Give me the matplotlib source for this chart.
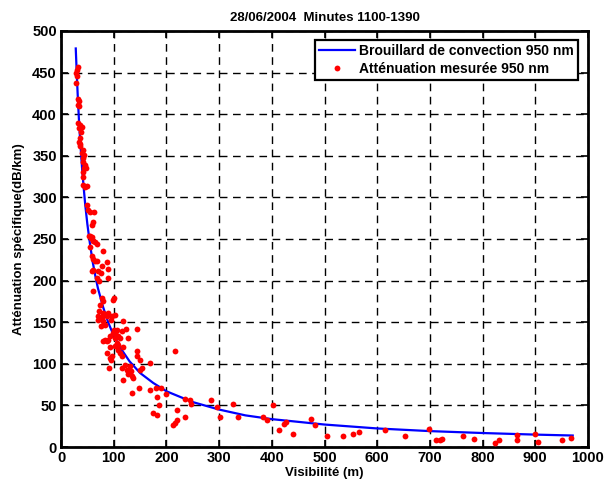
import matplotlib
matplotlib.use("Agg")
import matplotlib.pyplot as plt

plt.rcParams['font.family'] = ['Liberation Sans', 'DejaVu Sans']
plt.rcParams['font.weight'] = 'bold'

title = "28/06/2004  Minutes 1100-1390"
xlabel = "Visibilité (m)"
ylabel = "Atténuation spécifique(dB/km)"
label_model = "Brouillard de convection 950 nm"
label_meas = "Atténuation mesurée 950 nm"

xticks = [0, 100, 200, 300, 400, 500, 600, 700, 800, 900, 1000]
yticks = [0, 50, 100, 150, 200, 250, 300, 350, 400, 450, 500]

# model curve
curve_x = [28, 30, 32, 34, 36, 38, 40, 43, 46, 50, 55, 60, 65, 70, 80, 90, 100,
           115, 130, 150, 175, 200, 250, 300, 350, 400, 500, 600, 700, 800, 900, 971]
curve_y = [479, 447, 419, 394, 372, 353, 335, 312, 291, 268, 244, 223, 206, 191,
           168, 149, 134, 117, 103, 89, 77, 67, 54, 45, 38, 33.5, 27, 22.3, 19.1,
           16.8, 14.9, 13.8]

# measured points
meas_x = [31.6, 29.7, 28.5, 31, 28.5,
          31.6, 34.7, 32.9, 34.7,
          32.9, 36, 39.3, 34.7, 37.4,
          36, 35, 37, 36,
          41, 39, 43.6, 42, 41, 45.5, 43.6, 42, 47.4,
          42, 41, 45.5, 48.8,
          48.8, 51.8, 55, 62.6, 59.9, 58, 55, 58,
          53.8, 56.3, 61.3, 64.5, 67.7, 55, 79,
          58, 61.3, 67.7, 64.5, 77.2, 87, 89.8,
          58, 61.3, 70.8, 75.9,
          68.9, 72.7, 89.8, 61.3,
          100.6, 98.1,
          77.2, 79, 74, 72.7, 80.3, 70.8, 77.2, 70.8, 80.3, 83.5, 75.3, 87, 89.8, 96.2, 102.5, 94.3,
          117,
          100.6, 105.6, 98.1, 104.4, 108.8, 115.1, 112, 102.5, 93, 89.8, 83.5, 80.3, 86.7,
          123.3, 144.8, 127.7,
          105.6, 108.8, 102.5, 93, 86.7, 93, 96.2, 94.3, 91.7, 112, 115.1, 108.8, 118.2,
          144.8, 144.8, 149.9,
          115.1, 121.4, 130.9, 127.7, 134.2, 137.2, 118.2, 125.8, 132.3, 149.9, 153.1,
          168.9, 216.3,
          134.2, 148.6, 168.9, 180.3, 189.2, 182.7, 186.5, 199.2, 175.1, 182.7,
          235.3, 244.8, 246.1, 220.7, 235.3, 216.3, 219.5, 213.2,
          284, 295.4, 301.7, 327, 336.4,
          383.5, 391, 402.3, 413.7, 422.6, 427.5, 440.3, 474.8, 481.8, 503.8, 534.7,
          553.7, 564.9, 615.4, 652, 698.7, 711.2, 718.8, 723.9, 763.6, 783.1, 823.3,
          830.9, 865.6, 865.6, 899, 905.3, 950.8, 968.5]
meas_y = [457, 453, 449, 446, 438,
          418, 416, 411, 410,
          389, 387, 385, 383, 379,
          371, 367, 364, 362,
          357, 353, 351, 347, 343, 339, 335, 331, 335,
          325, 315, 313, 314,
          291, 285, 283, 282, 270, 267, 254, 252,
          254, 251, 248, 246, 244, 240, 235,
          230, 226, 223, 224, 218, 222, 214,
          211, 213, 212, 209,
          203, 199, 203, 187,
          179, 177,
          179, 175, 171, 163, 161, 158, 156, 153, 151, 147, 145, 158, 161, 157, 159, 153,
          151,
          141, 141, 137, 135, 133, 139, 131, 131, 133, 129, 129, 127, 127,
          142, 142, 131,
          125, 123, 121, 120, 113, 107, 109, 104, 95, 113, 109, 117, 120,
          115, 109, 105,
          95, 99, 97, 88, 85, 83, 80, 93, 91, 93, 95,
          101, 115,
          65, 71, 69, 71, 71, 60, 51, 64, 41, 39,
          58, 56, 52, 44, 36, 29, 32, 26,
          57, 48, 36, 52, 36,
          36, 32, 50, 21, 28, 30, 16, 34, 26, 13, 13,
          16, 18, 21, 13, 22, 9, 8, 10, 13, 10, 5,
          9, 15, 9, 16, 6, 9, 11]

fig = plt.figure(figsize=(6.16, 4.86), dpi=100)
ax = fig.add_axes([61/616, 39/486, 527/616, 416/486])

ax.plot(curve_x, curve_y, color=(0, 0, 1), lw=1.6, label=label_model, zorder=3)
ax.plot(meas_x, meas_y, 'o', color=(1, 0, 0), ms=4.2, mec='none',
        label=label_meas, zorder=4)

ax.set_xlim(0, 1000)
ax.set_ylim(0, 500)
ax.set_xticks(xticks)
ax.set_yticks(yticks)
ax.tick_params(direction='in', length=5, width=1.2, top=True, right=True,
               labelsize=10.5, pad=3)
for lab in ax.get_xticklabels() + ax.get_yticklabels():
    lab.set_fontweight('bold')
for s in ax.spines.values():
    s.set_linewidth(2.0)
ax.grid(True, color='black', ls=(0, (5.5, 4)), lw=1.0)
ax.set_axisbelow(True)

ax.set_title(title, fontsize=9.5, fontweight='bold', pad=7)
ax.set_xlabel(xlabel, fontsize=9.5, fontweight='bold', labelpad=1)
ax.set_ylabel(ylabel, fontsize=9.5, fontweight='bold', labelpad=5)

leg = ax.legend(loc='upper right', bbox_to_anchor=((578-61)/527, (447-40)/416),
                borderaxespad=0, fancybox=False, framealpha=1,
                edgecolor='black', prop={'weight': 'bold', 'size': 10},
                handlelength=2.6, handletextpad=0.3, labelspacing=0.25,
                borderpad=0.3, numpoints=1)
leg.get_frame().set_linewidth(1.6)

fig.savefig("out.png", dpi=100)
